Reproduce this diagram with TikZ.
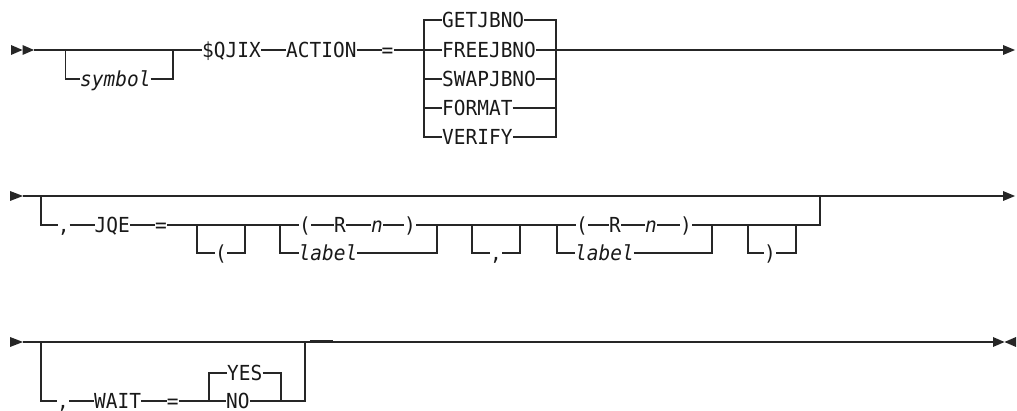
\documentclass[tikz,border=0pt]{standalone}
\usepackage{fontspec}
\setmonofont{DejaVu Sans Mono}[ItalicFont={DejaVu Sans Mono Oblique}, FakeStretch=0.94]
\usetikzlibrary{calc}
\begin{document}
\begin{tikzpicture}[x=1pt,y=-1pt,
    linea/.style={line width=1.2pt, black!85},
    flecha/.style={fill=black!85},
    tok/.style={inner sep=0pt, anchor=west, text height=15pt, text depth=0pt,
      text=black!90, font=\ttfamily\fontsize{20.7}{22}\selectfont},
    var/.style={tok, font=\ttfamily\itshape\fontsize{20.7}{22}\selectfont}]
    \useasboundingbox (0,0) rectangle (1017,411);
    % Primera linea: ACTION
    \begin{scope}[yshift=-50pt]
        \fill[flecha] (11,-5) -- (22.5,0) -- (11,5) -- cycle;
        \fill[flecha] (22.5,-5) -- (34,0) -- (22.5,5) -- cycle;
        \coordinate (ini1) at (34,0);
        \coordinate (a1) at (65.7,0);
        \coordinate (b1) at (173,0);
        \node[var] (symbol) at (80,29) {symbol};
        \node[tok] (qjix) at (202,0) {\$QJIX};
        \node[tok] (action) at (286,0) {ACTION};
        \node[tok] (igual1) at (381.5,0) {=};
        % opciones
        \node[tok] (getj) at (442,-30) {GETJBNO};
        \node[tok] (freej) at (442,0) {FREEJBNO};
        \node[tok] (swapj) at (442,29) {SWAPJBNO};
        \node[tok] (formatj) at (442,58) {FORMAT};
        \node[tok] (verifyj) at (442,87) {VERIFY};
        \coordinate (izq1) at (424,0);
        \coordinate (der1) at (556,0);
        \coordinate (fin1) at (1003,0);
        \draw[linea] (ini1) -- (qjix.west) (qjix.east) -- (action.west)
            (action.east) -- (igual1.west) (igual1.east) -- (freej.west)
            (freej.east) -- (fin1);
        \draw[linea] (a1) |- (symbol.west) (symbol.east) -| (b1);
        \draw[linea] (getj.west) -| (izq1) |- (verifyj.west);
        \draw[linea] (swapj.west) -- (izq1 |- swapj.west)
            (formatj.west) -- (izq1 |- formatj.west);
        \draw[linea] (getj.east) -| (der1) |- (verifyj.east);
        \draw[linea] (swapj.east) -- (der1 |- swapj.east)
            (formatj.east) -- (der1 |- formatj.east);
        \fill[flecha] (1003,-5) -- (1015,0) -- (1003,5) -- cycle;
    \end{scope}
    % Segunda linea: JQE
    \begin{scope}[yshift=-196pt]
        \fill[flecha] (10,-5) -- (23,0) -- (10,5) -- cycle;
        \coordinate (ini2) at (23,0);
        \coordinate (fin2) at (1003,0);
        \coordinate (a2) at (41,0);
        \coordinate (b2) at (820,0);
        \node[tok] (coma2) at (57.6,29) {,};
        \node[tok] (jqe) at (94.5,29) {JQE};
        \node[tok] (igual2) at (155,29) {=};
        \node[tok] (par1) at (215,57) {(};
        \node[tok] (izqp1) at (299,29) {(};
        \node[tok] (r1) at (334,29) {R};
        \node[var] (n1) at (371,29) {n};
        \node[tok] (derp1) at (404,29) {)};
        \node[var] (label1) at (298.5,57) {label};
        \node[tok] (coma3) at (490,57) {,};
        \node[tok] (izqp2) at (576,29) {(};
        \node[tok] (r2) at (609,29) {R};
        \node[var] (n2) at (645,29) {n};
        \node[tok] (derp2) at (680,29) {)};
        \node[var] (label2) at (575,57) {label};
        \node[tok] (par2) at (764,57) {)};
        \coordinate (o1l) at (197,29);
        \coordinate (o1r) at (245,29);
        \coordinate (c2l) at (280,29);
        \coordinate (c2r) at (437,29);
        \coordinate (o2l) at (472,29);
        \coordinate (o2r) at (520,29);
        \coordinate (c3l) at (557,29);
        \coordinate (c3r) at (712,29);
        \coordinate (o3l) at (748,29);
        \coordinate (o3r) at (796,29);
        \draw[linea] (ini2) -- (fin2);
        \draw[linea] (a2) |- (coma2.west) (coma2.east) -- (jqe.west)
            (jqe.east) -- (igual2.west) (igual2.east) -- (izqp1.west)
            (izqp1.east) -- (r1.west) (r1.east) -- (n1.west) (n1.east) -- (derp1.west)
            (derp1.east) -- (izqp2.west)
            (izqp2.east) -- (r2.west) (r2.east) -- (n2.west) (n2.east) -- (derp2.west)
            (derp2.east) -| (b2);
        \draw[linea] (o1l) |- (par1.west) (par1.east) -| (o1r);
        \draw[linea] (c2l) |- (label1.west) (label1.east) -| (c2r);
        \draw[linea] (o2l) |- (coma3.west) (coma3.east) -| (o2r);
        \draw[linea] (c3l) |- (label2.west) (label2.east) -| (c3r);
        \draw[linea] (o3l) |- (par2.west) (par2.east) -| (o3r);
        \fill[flecha] (1003,-5) -- (1015,0) -- (1003,5) -- cycle;
    \end{scope}
    % Tercera linea: WAIT
    \begin{scope}[yshift=-342pt]
        \fill[flecha] (10,-5) -- (23,0) -- (10,5) -- cycle;
        \coordinate (ini3) at (23,0);
        \coordinate (fin3) at (993,0);
        \coordinate (a3) at (41,0);
        \coordinate (b3) at (305,0);
        \node[tok] (coma4) at (57,59) {,};
        \node[tok] (wait) at (94,59) {WAIT};
        \node[tok] (igual3) at (166.6,59) {=};
        \node[tok] (yes) at (227,31) {YES};
        \node[tok] (no) at (226,59) {NO};
        \coordinate (c4l) at (209,59);
        \coordinate (c4r) at (281,59);
        \draw[linea] (ini3) -- (fin3);
        \draw[linea] (a3) |- (coma4.west) (coma4.east) -- (wait.west)
            (wait.east) -- (igual3.west) (igual3.east) -- (no.west)
            (no.east) -| (b3);
        \draw[linea] (c4l) |- (yes.west) (yes.east) -| (c4r);
        \draw[linea, line width=1.6pt] (310,-0.7) -- (333,-0.7);
        \fill[flecha] (993,-5) -- (1004.5,0) -- (993,5) -- cycle;
        \fill[flecha] (1016,-5) -- (1004.5,0) -- (1016,5) -- cycle;
    \end{scope}
\end{tikzpicture}
\end{document}
